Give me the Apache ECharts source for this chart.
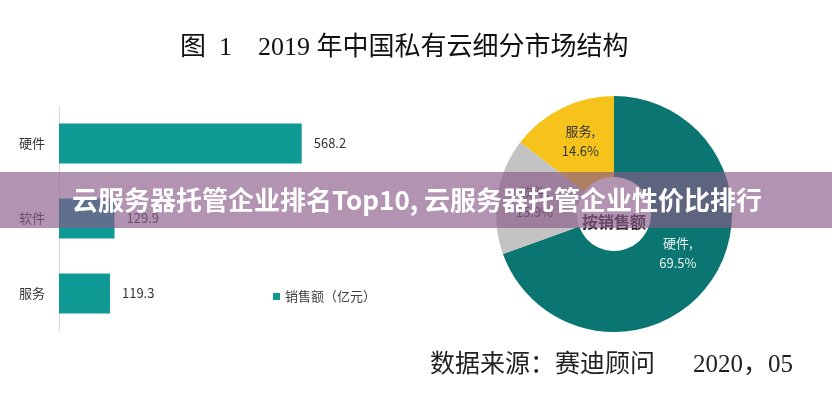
<!DOCTYPE html>
<html><head><meta charset="utf-8">
<script src="https://cdn.jsdelivr.net/npm/echarts@6/dist/echarts.min.js"></script>
<style>html,body{margin:0;padding:0;background:#fff}#c{width:832px;height:400px}</style>
</head><body><div id="c"></div>
<script>
var categories = ['硬件', '软件', '服务'];
var sales = [568.2, 129.9, 119.3];
var seriesName = '销售额（亿元）';
var pieCenterLabel = '按销售额';
var titleText = '图  1    2019 年中国私有云细分市场结构';
var sourceText = '数据来源：赛迪顾问';
var dateText = '2020，05';
var bannerText = '云服务器托管企业排名Top10, 云服务器托管企业性价比排行';

var barColor = '#0f9995';
var pieColors = ['#0b7571', '#c3c3c3', '#f5c31c'];
var pieLabelColors = ['#e6f3f2', '#404040', '#333333'];
var pieLabelOffsets = [[-2, -7], [0, 0], [2, -1]];
var sans = '"Noto Sans CJK SC", "Noto Sans", sans-serif';
var serif = '"Liberation Serif", "DejaVu Serif", "Noto Sans CJK SC", serif';

var chart = echarts.init(document.getElementById('c'), null, {renderer: 'canvas'});
chart.setOption({
  animation: false,
  backgroundColor: '#ffffff',
  legend: {
    left: 268, top: 285, icon: 'rect', itemWidth: 7, itemHeight: 7, itemGap: 6,
    data: [seriesName],
    textStyle: {fontFamily: sans, fontSize: 13, color: '#404040'}
  },
  grid: {left: 59, top: 106, width: 299, bottom: 69},
  xAxis: {type: 'value', min: 0, max: 700, show: false},
  yAxis: {
    type: 'category', data: categories, inverse: true,
    axisLine: {show: true, lineStyle: {color: '#d9d9d9', width: 1}},
    axisTick: {show: false},
    axisLabel: {fontFamily: sans, fontSize: 13, color: '#333', margin: 14}
  },
  series: [{
    type: 'bar', name: seriesName, data: sales, barWidth: 40,
    itemStyle: {color: barColor},
    label: {show: true, position: 'right', distance: 12, fontFamily: sans, fontSize: 13, color: '#333'}
  }, {
    type: 'pie', center: [614, 214], radius: [37, 118], startAngle: 90, clockwise: true,
    silent: true, percentPrecision: 1,
    data: categories.map(function (c, i) {
      return {name: c, value: sales[i], itemStyle: {color: pieColors[i]},
        label: {color: pieLabelColors[i], offset: pieLabelOffsets[i]}};
    }),
    label: {show: true, position: 'inside', formatter: '{b},\n{d}%', fontFamily: sans, fontSize: 13, lineHeight: 20},
    labelLine: {show: false}
  }],
  graphic: [
    {type: 'text', left: 180, top: 35, style: {text: titleText, font: '26px ' + serif, fill: '#111'}},
    {type: 'text', left: 430, top: 353, style: {text: sourceText, font: '25px ' + serif, fill: '#222'}},
    {type: 'text', left: 693, top: 353, style: {text: dateText, font: '25px ' + serif, fill: '#222'}},
    {type: 'text', x: 614, y: 222, style: {text: pieCenterLabel, font: 'bold 16px ' + sans, fill: '#262626', align: 'center', verticalAlign: 'middle'}},
    {type: 'rect', z: 100, shape: {x: 0, y: 172, width: 832, height: 56}, style: {fill: 'rgba(136,91,137,0.65)'}},
    {type: 'text', z: 101, x: 417, y: 200, style: {text: bannerText, font: 'bold 26px ' + sans, fill: '#ffffff', align: 'center', verticalAlign: 'middle'}}
  ]
});
</script></body></html>
